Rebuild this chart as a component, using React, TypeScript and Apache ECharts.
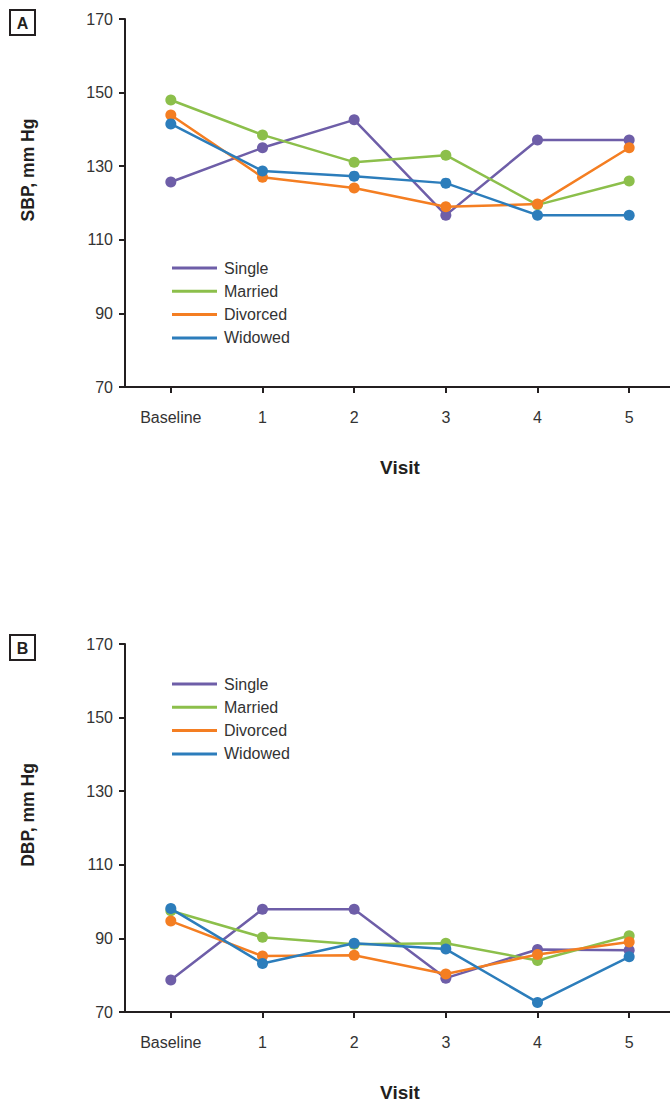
import React, { useEffect, useRef } from "react";
import * as echarts from "echarts";

const visits = ["Baseline", "1", "2", "3", "4", "5"];
const groups = ["Single", "Married", "Divorced", "Widowed"];
const colors = ["#6E5EA8", "#8CBF4B", "#F47E22", "#2C7DBB"];

const sbpSingle = [125.7, 135, 142.6, 116.7, 137.1, 137.1];
const sbpMarried = [148, 138.5, 131.1, 133, 119.5, 126];
const sbpDivorced = [143.9, 127, 124.1, 119, 119.7, 135];
const sbpWidowed = [141.5, 128.7, 127.3, 125.4, 116.7, 116.7];

const dbpSingle = [78.7, 97.9, 97.9, 79.2, 87, 86.8];
const dbpMarried = [97.5, 90.3, 88.4, 88.7, 84, 90.7];
const dbpDivorced = [94.7, 85.2, 85.4, 80.3, 85.6, 89];
const dbpWidowed = [98.1, 83.2, 88.7, 87.1, 72.6, 85];

const yTicks = [70, 90, 110, 130, 150, 170];

const sbpSeries = [sbpSingle, sbpMarried, sbpDivorced, sbpWidowed];
const dbpSeries = [dbpSingle, dbpMarried, dbpDivorced, dbpWidowed];

const FONT = "'Liberation Sans', Arial, Helvetica, sans-serif";
const INK = "#231F20";

export default function App() {
  const ref = useRef<HTMLDivElement>(null);
  useEffect(() => {
    document.body.style.margin = "0";
    const chart = echarts.init(ref.current!, null, { renderer: "svg" });
    const gridTops = [19, 644];
    const makeX = (i: number) => ({
      type: "category",
      gridIndex: i,
      data: visits,
      boundaryGap: true,
      axisLine: { lineStyle: { color: INK, width: 2 } },
      axisTick: { show: true, alignWithLabel: true, length: 6, lineStyle: { color: INK, width: 2 } },
      axisLabel: { color: "#333", fontSize: 16, fontFamily: FONT, margin: 22 },
      splitLine: { show: false },
    });
    const makeY = (i: number) => ({
      type: "value",
      gridIndex: i,
      min: yTicks[0],
      max: yTicks[yTicks.length - 1],
      interval: 20,
      axisLine: { show: true, lineStyle: { color: INK, width: 2 } },
      axisTick: { show: true, length: 6, lineStyle: { color: INK, width: 2 } },
      axisLabel: { color: "#333", fontSize: 16, fontFamily: FONT, margin: 12 },
      splitLine: { show: false },
    });
    const mkSeries = (data: number[][], gi: number) =>
      data.map((d, k) => ({
        name: groups[k],
        type: "line",
        xAxisIndex: gi,
        yAxisIndex: gi,
        data: d,
        symbol: "circle",
        symbolSize: 11,
        lineStyle: { width: 2.5, color: colors[k] },
        itemStyle: { color: colors[k] },
        z: 2 + k,
      }));
    const mkLegend = (top: number) => ({
      data: groups.map((g) => ({ name: g, icon: "rect" })),
      orient: "vertical",
      left: 172,
      top,
      padding: 0,
      itemWidth: 45,
      itemHeight: 3,
      itemGap: 7.3,
      textStyle: { color: "#333", fontSize: 16, fontFamily: FONT, lineHeight: 16, padding: [0, 0, 0, 2] },
    });
    const title = (text: string, x: number, y: number, rot: number, size: number) => ({
      type: "text",
      x,
      y,
      rotation: rot,
      style: {
        text,
        fill: INK,
        font: `bold ${size}px ${FONT}`,
        align: "center",
        verticalAlign: "middle",
      },
    });
    const box = (label: string, y: number) => ({
      type: "group",
      left: 9,
      top: y,
      children: [
        { type: "rect", shape: { x: 0, y: 0, width: 25, height: 25 }, style: { fill: "#fff", stroke: INK, lineWidth: 2 } },
        {
          type: "text",
          x: 12.5,
          y: 13,
          style: { text: label, fill: INK, font: `bold 16px ${FONT}`, align: "center", verticalAlign: "middle" },
        },
      ],
    });
    chart.setOption({
      animation: false,
      backgroundColor: "#fff",
      grid: gridTops.map((t) => ({
        left: 125,
        top: t,
        width: 550,
        height: 368,
        containLabel: false,
        outerBoundsMode: "none",
      })),
      xAxis: [makeX(0), makeX(1)],
      yAxis: [makeY(0), makeY(1)],
      legend: [mkLegend(260), mkLegend(676)],
      series: [...mkSeries(sbpSeries, 0), ...mkSeries(dbpSeries, 1)],
      graphic: [
        box("A", 9),
        box("B", 634),
        title("SBP, mm Hg", 28, 170, Math.PI / 2, 17.5),
        title("DBP, mm Hg", 28, 815, Math.PI / 2, 17.5),
        title("Visit", 400, 467, 0, 19),
        title("Visit", 400, 1092, 0, 19),
      ],
    });
    return () => chart.dispose();
  }, []);
  return <div ref={ref} style={{ width: 670, height: 1102 }} />;
}
